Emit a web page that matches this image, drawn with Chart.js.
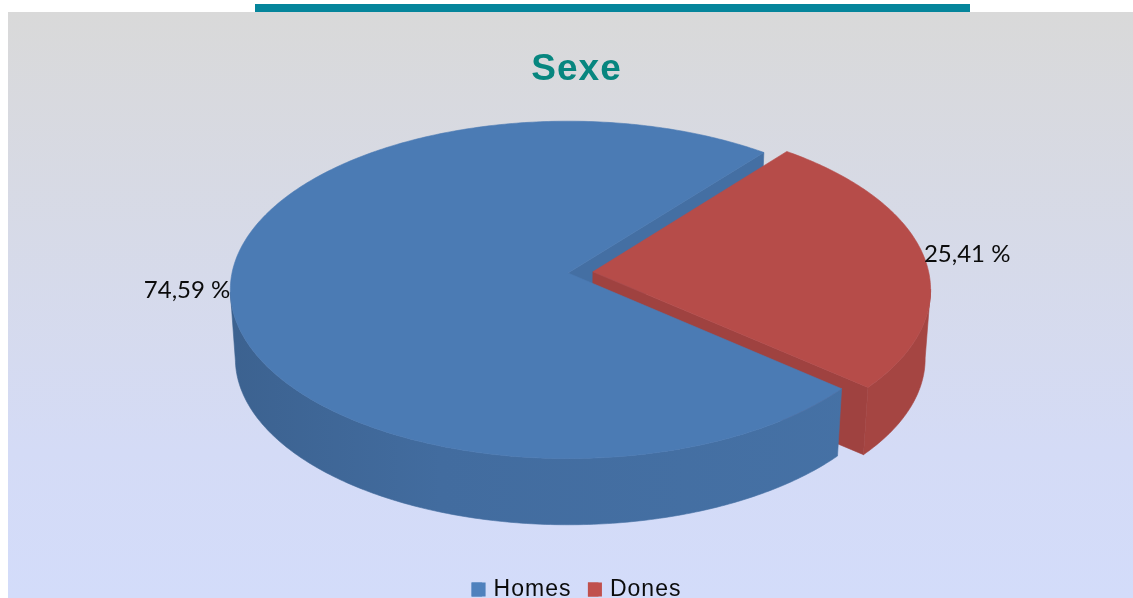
<!DOCTYPE html>
<html>
<head>
<meta charset="utf-8">
<style>
html,body{margin:0;padding:0;background:#fff;overflow:hidden}
#wrap{position:relative;width:1133px;height:598px}
</style>
<script src="https://cdn.jsdelivr.net/npm/chart.js@4/dist/chart.umd.js"></script>
</head>
<body>
<div id="wrap"><canvas id="c" width="1133" height="598"></canvas></div>
<script>
// Chart content
const categories = ['Homes', 'Dones'];
const shares = [74.59, 25.41];
const sliceColors = ['#4f81bd', '#c0504d'];
const sliceOffsets = [0, 25];
const labelNudgeY = [2, -2];

// Tilted-disc geometry of the pie, in canvas pixels
const DISC = { cx: 568, cy: 273, rx: 336, ry: 167, persp: 0.1, depth: 69, shrink: 0.985 };

// Maps a disc point (u right, v towards the viewer) to the canvas; level 1 is the underside
function project(u, v, level) {
  const w = 1 - DISC.persp * v;
  const s = level ? DISC.shrink : 1;
  return {
    x: DISC.cx + (DISC.rx * u / w) * s,
    y: DISC.cy + (DISC.ry * v / w) * s + (level ? DISC.depth : 0)
  };
}

function shade(hex, f) {
  const n = parseInt(hex.slice(1), 16);
  const c = [(n >> 16) & 255, (n >> 8) & 255, n & 255].map(v => Math.round(v * f));
  return `rgb(${c[0]},${c[1]},${c[2]})`;
}

function sliceGeometry(arc) {
  const mid = (arc.startAngle + arc.endAngle) / 2;
  const off = (arc.options.offset || 0) / DISC.rx;
  return { a0: arc.startAngle, a1: arc.endAngle, du: Math.cos(mid) * off, dv: Math.sin(mid) * off, mid };
}

function rimPoints(g, level, frontOnly) {
  const pts = [];
  const n = Math.ceil((g.a1 - g.a0) / (Math.PI / 240));
  for (let i = 0; i <= n; i++) {
    const a = g.a0 + (g.a1 - g.a0) * i / n;
    // The rim only faces the viewer in front of the disc's widest point
    if (frontOnly && Math.sin(a) < DISC.persp) continue;
    pts.push(project(Math.cos(a) + g.du, Math.sin(a) + g.dv, level));
  }
  return pts;
}

function fillPolygon(ctx, pts, fill) {
  ctx.beginPath();
  pts.forEach((p, i) => i ? ctx.lineTo(p.x, p.y) : ctx.moveTo(p.x, p.y));
  ctx.closePath();
  ctx.fillStyle = fill;
  ctx.fill();
  ctx.strokeStyle = fill;
  ctx.lineWidth = 0.6;
  ctx.stroke();
}

function drawTop(ctx, g, color) {
  const apex = project(g.du, g.dv, 0);
  fillPolygon(ctx, [apex, ...rimPoints(g, 0)], shade(color, 0.95));
}

function drawOuterWall(ctx, g, color, stops) {
  const grad = ctx.createLinearGradient(231, 0, 930, 0);
  stops.forEach(([t, f]) => grad.addColorStop(t, shade(color, f)));
  fillPolygon(ctx, [...rimPoints(g, 0, true), ...rimPoints(g, 1, true).reverse()], grad);
}

function drawCutWall(ctx, g, angle, fill) {
  const inner0 = project(g.du, g.dv, 0);
  const inner1 = project(g.du, g.dv, 1);
  const outer0 = project(Math.cos(angle) + g.du, Math.sin(angle) + g.dv, 0);
  const outer1 = project(Math.cos(angle) + g.du, Math.sin(angle) + g.dv, 1);
  fillPolygon(ctx, [inner0, outer0, outer1, inner1], fill);
}

// Paints the extruded pie from the arcs the doughnut controller laid out
const extrudedPie = {
  id: 'extrudedPie',
  beforeDatasetsDraw(chart) {
    const ctx = chart.ctx;
    const arcs = chart.getDatasetMeta(0).data;
    const homes = sliceGeometry(arcs[0]);
    const dones = sliceGeometry(arcs[1]);
    const [blue, red] = chart.data.datasets[0].backgroundColor;

    ctx.save();
    drawCutWall(ctx, homes, homes.a1, shade(blue, 0.86));
    drawCutWall(ctx, dones, dones.a1, shade(red, 0.83));
    drawOuterWall(ctx, dones, red, [[0, 0.86], [1, 0.86]]);
    drawTop(ctx, dones, red);
    drawOuterWall(ctx, homes, blue, [[0, 0.76], [0.3, 0.84], [1, 0.88]]);
    drawTop(ctx, homes, blue);

    // Percentage labels sit against the rim at each slice's mid angle
    ctx.letterSpacing = '0px';
    ctx.font = '24px Lato';
    ctx.fillStyle = '#0b0b0b';
    ctx.textBaseline = 'middle';
    [homes, dones].forEach((g, i) => {
      const p = project(Math.cos(g.mid) + g.du, Math.sin(g.mid) + g.dv, 0);
      const left = Math.cos(g.mid) < 0;
      ctx.textAlign = left ? 'right' : 'left';
      const text = shares[i].toFixed(2).replace('.', ',') + ' %';
      ctx.fillText(text, p.x, p.y + labelNudgeY[i]);
    });
    ctx.restore();
    return false;
  }
};

// Panel gradient, top rule and full-size legend swatches
const panel = {
  id: 'panel',
  beforeDraw(chart) {
    const ctx = chart.ctx;
    ctx.save();
    const grad = ctx.createLinearGradient(0, 12, 0, 598);
    grad.addColorStop(0, '#d9d9d9');
    grad.addColorStop(0.75, '#d4dbf6');
    grad.addColorStop(1, '#d3dcfa');
    ctx.fillStyle = grad;
    ctx.fillRect(8, 12, 1125, 586);
    ctx.fillStyle = '#05859b';
    ctx.fillRect(255, 4, 715, 8);
    ctx.restore();
    ctx.letterSpacing = '1px';
  },
  beforeLayout(chart) {
    chart.ctx.letterSpacing = '1px';
  },
  afterDraw(chart) {
    const ctx = chart.ctx;
    const legend = chart.legend;
    ctx.save();
    legend.legendHitBoxes.forEach((box, i) => {
      ctx.fillStyle = sliceColors[i];
      ctx.fillRect(box.left, box.top + box.height / 2 - 7, 14, 14);
    });
    ctx.restore();
  }
};

new Chart(document.getElementById('c'), {
  type: 'pie',
  plugins: [panel, extrudedPie],
  data: {
    labels: categories,
    datasets: [{
      data: shares,
      backgroundColor: sliceColors,
      offset: sliceOffsets,
      borderWidth: 0
    }]
  },
  options: {
    responsive: false,
    animation: false,
    rotation: 130.4,
    layout: { padding: { left: 20, bottom: -13 } },
    plugins: {
      tooltip: { enabled: false },
      title: {
        display: true,
        text: 'Sexe',
        color: '#07867f',
        font: { family: 'Liberation Sans', size: 37, weight: 'bold' },
        padding: { top: 48, bottom: 10 }
      },
      legend: {
        position: 'bottom',
        labels: {
          color: '#0b0b0b',
          font: { family: 'Liberation Sans', size: 23 },
          boxWidth: 10.5,
          boxHeight: 14,
          padding: 16.5
        }
      }
    }
  }
});
</script>
</body>
</html>
